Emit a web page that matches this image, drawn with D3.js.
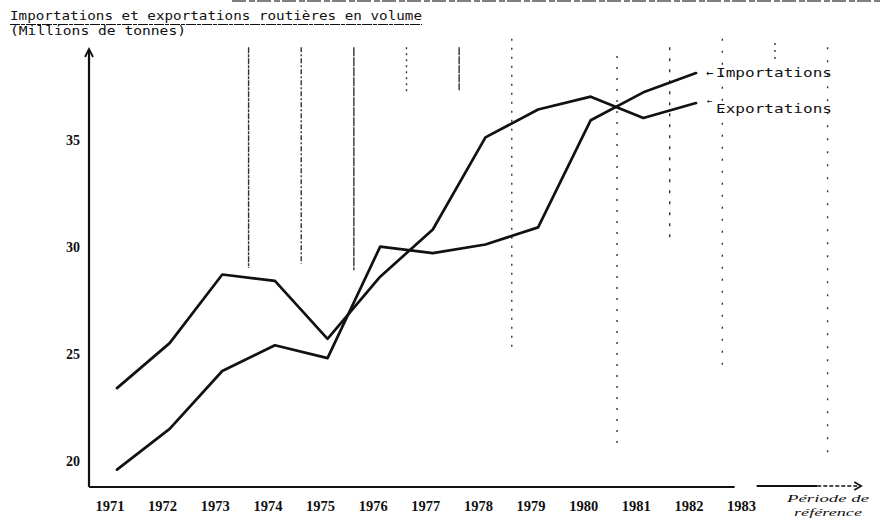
<!DOCTYPE html>
<html>
<head>
<meta charset="utf-8">
<script src="https://cdn.jsdelivr.net/npm/d3@7"></script>
<style>
  body { margin: 0; background: #fff; }
  svg { display: block; }
</style>
</head>
<body>
<div id="chart"></div>
<script>
/* Daten: Importations et exportations routières (millions de tonnes) */
var years = [1971, 1972, 1973, 1974, 1975, 1976, 1977, 1978, 1979, 1980, 1981, 1982];
var importations = [19.6, 21.5, 24.2, 25.4, 24.8, 30.0, 29.7, 30.1, 30.9, 35.9, 37.2, 38.1];
var exportations = [23.4, 25.5, 28.7, 28.4, 25.7, 28.6, 30.8, 35.1, 36.4, 37.0, 36.0, 36.7];
var yearLabels = ["1971", "1972", "1973", "1974", "1975", "1976", "1977", "1978", "1979", "1980", "1981", "1982", "1983"];
var yTicks = [20, 25, 30, 35];

/* Knickfalten im Scan: Jahr, oberer Wert, unterer Wert, Strichmuster */
var folds = [
  [1973.5, 39.3, 29.0, "6,1,3,1"],
  [1974.5, 39.3, 29.2, "5,2,2,2"],
  [1975.5, 39.3, 28.9, "9,1"],
  [1976.5, 39.3, 37.1, "2,4"],
  [1977.5, 39.3, 37.3, "8,1"],
  [1978.5, 39.7, 25.2, "2,7"],
  [1980.5, 38.9, 20.5, "2,9"],
  [1981.5, 39.3, 30.3, "3,8"],
  [1982.5, 39.7, 24.3, "2,10"],
  [1983.5, 39.5, 38.6, "2,5"],
  [1984.5, 39.3, 20.1, "2,11"]
];

var W = 882, H = 520;
var svg = d3.select("#chart").append("svg").attr("width", W).attr("height", H);
svg.append("rect").attr("width", W).attr("height", H).attr("fill", "white");

/* Skalen */
var x = d3.scaleLinear().domain([1971, 1982]).range([117, 696]);
var y = d3.scaleLinear().domain([20, 35]).range([461, 139.5]);

var ink = "#111";
var mono = "'DejaVu Sans Mono', 'Liberation Mono', monospace";
var serif = "'Liberation Serif', 'DejaVu Serif', serif";

/* Falten */
svg.append("g").selectAll("line").data(folds).enter().append("line")
  .attr("x1", function(d) { return x(d[0]); }).attr("x2", function(d) { return x(d[0]); })
  .attr("y1", function(d) { return y(d[1]); }).attr("y2", function(d) { return y(d[2]); })
  .attr("stroke", "#333").attr("stroke-width", 1.4)
  .attr("stroke-dasharray", function(d) { return d[3]; });

/* Obere Scankante */
svg.append("line").attr("x1", 232).attr("x2", W).attr("y1", 1).attr("y2", 1)
  .attr("stroke", "#555").attr("stroke-width", 1.5).attr("stroke-dasharray", "14,3,6,2");

/* Titel */
svg.append("text").attr("x", 10).attr("y", 20).attr("font-family", mono).attr("font-size", 11.5)
  .attr("fill", ink).attr("textLength", 412).attr("lengthAdjust", "spacingAndGlyphs")
  .text("Importations et exportations routières en volume");
svg.append("line").attr("x1", 10).attr("x2", 422).attr("y1", 24.5).attr("y2", 24.5)
  .attr("stroke", ink).attr("stroke-width", 1).attr("stroke-dasharray", "10,1,4,1");
svg.append("text").attr("x", 10).attr("y", 35).attr("font-family", mono).attr("font-size", 11.5)
  .attr("fill", ink).attr("textLength", 176).attr("lengthAdjust", "spacingAndGlyphs")
  .text("(Millions de tonnes)");

/* Achsen */
var axisX0 = 89, axisY0 = 487;
svg.append("line").attr("x1", axisX0).attr("x2", axisX0).attr("y1", axisY0).attr("y2", 50)
  .attr("stroke", ink).attr("stroke-width", 2.2);
svg.append("path").attr("d", "M" + (axisX0 - 4) + ",57 L" + axisX0 + ",49 L" + (axisX0 + 4) + ",57")
  .attr("fill", "none").attr("stroke", ink).attr("stroke-width", 1.8);

svg.append("line").attr("x1", axisX0).attr("x2", x(1983) - 14).attr("y1", axisY0).attr("y2", axisY0)
  .attr("stroke", ink).attr("stroke-width", 2);
svg.append("line").attr("x1", x(1983) + 8).attr("x2", x(1984) + 16).attr("y1", axisY0 - 1).attr("y2", axisY0 - 1)
  .attr("stroke", ink).attr("stroke-width", 2);
svg.append("line").attr("x1", x(1984) + 16).attr("x2", x(1984) + 59).attr("y1", axisY0 - 1).attr("y2", axisY0 - 1)
  .attr("stroke", ink).attr("stroke-width", 1.6).attr("stroke-dasharray", "4,2");
svg.append("path").attr("d", "M" + (x(1984) + 53) + "," + (axisY0 - 5) + " L" + (x(1984) + 60) + "," + (axisY0 - 1) + " L" + (x(1984) + 53) + "," + (axisY0 + 3))
  .attr("fill", "none").attr("stroke", ink).attr("stroke-width", 1.6);

/* Beschriftung der Achsen */
svg.append("g").selectAll("text").data(yTicks).enter().append("text")
  .attr("x", 80).attr("y", function(d) { return y(d) + 5; }).attr("text-anchor", "end")
  .attr("font-family", serif).attr("font-size", 14).attr("font-weight", "bold").attr("fill", ink)
  .text(function(d) { return d; });

svg.append("g").selectAll("text").data(yearLabels).enter().append("text")
  .attr("x", function(d) { return x(+d) - 7; }).attr("y", 511).attr("text-anchor", "middle")
  .attr("font-family", serif).attr("font-size", 14).attr("font-weight", "bold").attr("fill", ink)
  .attr("textLength", 29).attr("lengthAdjust", "spacingAndGlyphs")
  .text(function(d) { return d; });

svg.append("text").attr("x", 787).attr("y", 502)
  .attr("font-family", serif).attr("font-size", 11).attr("font-style", "italic").attr("fill", ink)
  .attr("textLength", 82).attr("lengthAdjust", "spacingAndGlyphs")
  .text("Période de");
svg.append("text").attr("x", 794).attr("y", 516)
  .attr("font-family", serif).attr("font-size", 11).attr("font-style", "italic").attr("fill", ink)
  .attr("textLength", 68).attr("lengthAdjust", "spacingAndGlyphs")
  .text("référence");

/* Linien */
var line = d3.line().x(function(d, i) { return x(years[i]); }).y(function(d) { return y(d); });
[importations, exportations].forEach(function(s) {
  svg.append("path").datum(s).attr("d", line).attr("fill", "none")
    .attr("stroke", ink).attr("stroke-width", 2.7).attr("stroke-linejoin", "round").attr("stroke-linecap", "round");
});

/* Etiketten rechts */
var lastI = years.length - 1;
var xl = x(years[lastI]);
svg.append("text").attr("x", xl + 10).attr("y", y(importations[lastI]) + 4)
  .attr("font-family", mono).attr("font-size", 12).attr("fill", ink).text("←");
svg.append("text").attr("x", xl + 20).attr("y", y(importations[lastI]) + 4)
  .attr("font-family", mono).attr("font-size", 12.5).attr("fill", ink)
  .attr("textLength", 116).attr("lengthAdjust", "spacingAndGlyphs").text("Importations");
svg.append("text").attr("x", xl + 11).attr("y", y(exportations[lastI]) + 1)
  .attr("font-family", mono).attr("font-size", 9).attr("fill", ink).text("←");
svg.append("text").attr("x", xl + 20).attr("y", y(exportations[lastI]) + 10)
  .attr("font-family", mono).attr("font-size", 12.5).attr("fill", ink)
  .attr("textLength", 116).attr("lengthAdjust", "spacingAndGlyphs").text("Exportations");
</script>
</body>
</html>
